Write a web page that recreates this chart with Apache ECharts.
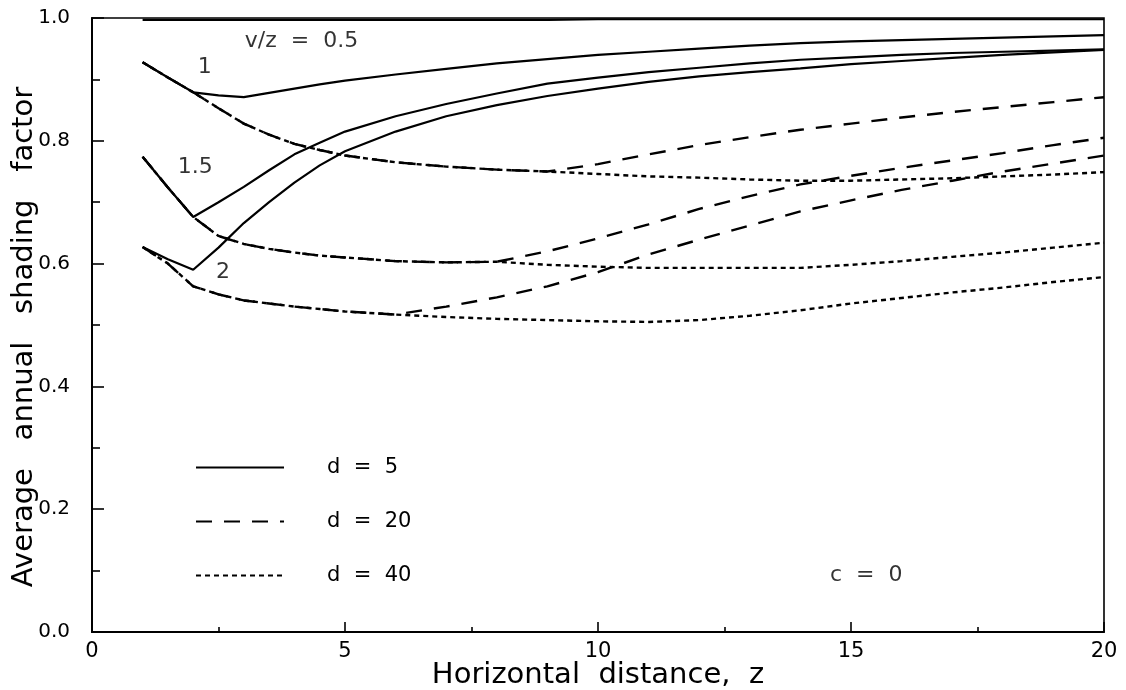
<!DOCTYPE html>
<html><head><meta charset="utf-8">
<script src="https://cdn.jsdelivr.net/npm/echarts@6/dist/echarts.min.js"></script>
<style>html,body{margin:0;padding:0;background:#fff}#c{width:1126px;height:690px}</style>
</head><body><div id="c"></div>
<script>
// Horizontal distance z (shared x grid)
const xs = [1, 1.5, 2, 2.5, 3, 3.5, 4, 4.5, 5, 6, 7, 8, 9, 10, 11, 12, 13, 14, 15, 16, 17, 18, 19, 20];

// d = 5 (solid)
const d5_v05 = [0.997, 0.997, 0.997, 0.997, 0.997, 0.997, 0.997, 0.997, 0.997, 0.997, 0.997, 0.997, 0.997, 0.998, 0.998, 0.998, 0.998, 0.998, 0.998, 0.998, 0.998, 0.998, 0.998, 0.998];
const d5_v1  = [0.928, 0.903, 0.879, 0.874, 0.871, 0.878, 0.885, 0.892, 0.898, 0.908, 0.917, 0.926, 0.933, 0.940, 0.945, 0.950, 0.955, 0.959, 0.962, 0.964, 0.966, 0.968, 0.970, 0.972];
const d5_v15 = [0.774, 0.724, 0.676, 0.700, 0.725, 0.752, 0.778, 0.797, 0.815, 0.840, 0.860, 0.877, 0.893, 0.903, 0.912, 0.919, 0.926, 0.932, 0.936, 0.940, 0.943, 0.945, 0.947, 0.949];
const d5_v2  = [0.627, 0.607, 0.590, 0.626, 0.666, 0.700, 0.732, 0.760, 0.783, 0.815, 0.840, 0.858, 0.873, 0.885, 0.896, 0.905, 0.912, 0.918, 0.925, 0.930, 0.935, 0.940, 0.944, 0.948];

// d = 20 (dashed)
const d20_v1  = [0.928, 0.903, 0.879, 0.853, 0.828, 0.810, 0.795, 0.785, 0.776, 0.765, 0.758, 0.753, 0.750, 0.762, 0.778, 0.793, 0.806, 0.818, 0.828, 0.838, 0.847, 0.855, 0.863, 0.871];
const d20_v15 = [0.774, 0.724, 0.676, 0.645, 0.632, 0.624, 0.618, 0.613, 0.610, 0.604, 0.602, 0.603, 0.620, 0.641, 0.664, 0.689, 0.710, 0.729, 0.743, 0.756, 0.768, 0.780, 0.793, 0.805];
const d20_v2  = [0.627, 0.600, 0.563, 0.550, 0.540, 0.535, 0.530, 0.526, 0.522, 0.517, 0.530, 0.545, 0.563, 0.586, 0.615, 0.639, 0.662, 0.685, 0.703, 0.720, 0.735, 0.750, 0.763, 0.776];

// d = 40 (dotted)
const d40_v1  = [0.928, 0.903, 0.879, 0.853, 0.828, 0.810, 0.795, 0.785, 0.776, 0.765, 0.758, 0.753, 0.750, 0.746, 0.742, 0.740, 0.737, 0.735, 0.735, 0.737, 0.739, 0.742, 0.745, 0.749];
const d40_v15 = [0.774, 0.724, 0.676, 0.645, 0.632, 0.624, 0.618, 0.613, 0.610, 0.604, 0.602, 0.603, 0.598, 0.595, 0.593, 0.593, 0.593, 0.593, 0.598, 0.604, 0.611, 0.618, 0.626, 0.634];
const d40_v2  = [0.627, 0.600, 0.563, 0.550, 0.540, 0.535, 0.530, 0.526, 0.522, 0.517, 0.513, 0.510, 0.508, 0.506, 0.505, 0.508, 0.515, 0.524, 0.535, 0.544, 0.553, 0.561, 0.570, 0.578];

// Tick labels
const xTickLabels = ['0', '5', '10', '15', '20'];
const yTickLabels = ['0.0', '0.2', '0.4', '0.6', '0.8', '1.0'];

// Annotations (data coordinates)
const annText = ['v/z  =  0.5', '1', '1.5', '2', 'c  =  0'];
const annX    = [4.14, 2.23, 2.04, 2.59, 15.3];
const annY    = [0.962, 0.920, 0.757, 0.586, 0.093];

const legendNames = ['d  =  5', 'd  =  20', 'd  =  40'];

const FONT = 'DejaVu Sans';
const toPts = arr => xs.map((x, i) => [x, arr[i]]);

const styles = {
  solid:  { color: '#000', width: 2.2, type: 'solid' },
  dashed: { color: '#000', width: 2.4, type: [16, 12] },
  dotted: { color: '#000', width: 2.4, type: [5, 4] }
};

function lineSeries(name, arr, st, z) {
  return {
    type: 'line', name: name, data: toPts(arr), symbol: 'none', smooth: false,
    lineStyle: Object.assign({}, st), itemStyle: { color: '#000' },
    z: z, silent: true, animation: false
  };
}

const series = [
  lineSeries(legendNames[0], d5_v05, styles.solid, 5),
  lineSeries(legendNames[0], d5_v1,  styles.solid, 5),
  lineSeries(legendNames[0], d5_v15, styles.solid, 5),
  lineSeries(legendNames[0], d5_v2,  styles.solid, 5),
  lineSeries(legendNames[1], d20_v1,  styles.dashed, 4),
  lineSeries(legendNames[1], d20_v15, styles.dashed, 4),
  lineSeries(legendNames[1], d20_v2,  styles.dashed, 4),
  lineSeries(legendNames[2], d40_v1,  styles.dotted, 3),
  lineSeries(legendNames[2], d40_v15, styles.dotted, 3),
  lineSeries(legendNames[2], d40_v2,  styles.dotted, 3),
  {
    type: 'scatter', name: 'annotations', silent: true, animation: false,
    data: annX.map((x, i) => ({ value: [x, annY[i]], label: { formatter: annText[i] } })),
    symbolSize: 1, itemStyle: { color: 'rgba(0,0,0,0)' },
    label: { show: true, position: 'inside', color: '#000', fontFamily: FONT, fontSize: 22 },
    z: 10
  }
];

const chart = echarts.init(document.getElementById('c'), null, { renderer: 'canvas' });
chart.setOption({
  animation: false,
  backgroundColor: '#fff',
  grid: { left: 92, right: 22, top: 18, bottom: 58, outerBoundsMode: 'none', containLabel: false,
          show: true, borderColor: '#000', borderWidth: 1.6, backgroundColor: 'transparent' },
  legend: {
    data: legendNames, orient: 'vertical', left: 190, top: 452,
    itemWidth: 88, itemHeight: 14, itemGap: 33,
    itemStyle: { opacity: 0, borderWidth: 0 },
    textStyle: { fontFamily: FONT, fontSize: 21, color: '#000', padding: [0, 0, 0, 38] },
    selectedMode: false
  },
  xAxis: {
    type: 'value', min: 0, max: 20, interval: 5,
    name: 'Horizontal  distance,  z', nameLocation: 'middle', nameGap: 29, nameMoveOverlap: false,
    nameTextStyle: { fontFamily: FONT, fontSize: 29, color: '#000' },
    axisLine: { show: true, onZero: false, lineStyle: { color: '#000', width: 2 } },
    axisTick: { show: true, inside: true, length: 10, lineStyle: { color: '#000', width: 1.6 } },
    minorTick: { show: true, splitNumber: 2, length: 5, lineStyle: { color: '#000', width: 1.6 } },
    axisLabel: { fontFamily: FONT, fontSize: 21, color: '#000', margin: 9,
      formatter: v => xTickLabels[Math.round(v / 5)] },
    splitLine: { show: false }
  },
  yAxis: {
    type: 'value', min: 0, max: 1, interval: 0.2,
    name: 'Average   annual   shading   factor', nameLocation: 'middle', nameGap: 53, nameMoveOverlap: false,
    nameTextStyle: { fontFamily: FONT, fontSize: 29, color: '#000', padding: [0, 24, 0, 0] },
    axisLine: { show: true, onZero: false, lineStyle: { color: '#000', width: 2 } },
    axisTick: { show: true, inside: true, length: 12, lineStyle: { color: '#000', width: 1.6 } },
    minorTick: { show: true, splitNumber: 2, length: 8, lineStyle: { color: '#000', width: 1.6 } },
    axisLabel: { fontFamily: FONT, fontSize: 20, color: '#000', margin: 22,
      formatter: v => yTickLabels[Math.round(v / 0.2)] },
    splitLine: { show: false }
  },
  series: series
});
</script>
</body></html>
